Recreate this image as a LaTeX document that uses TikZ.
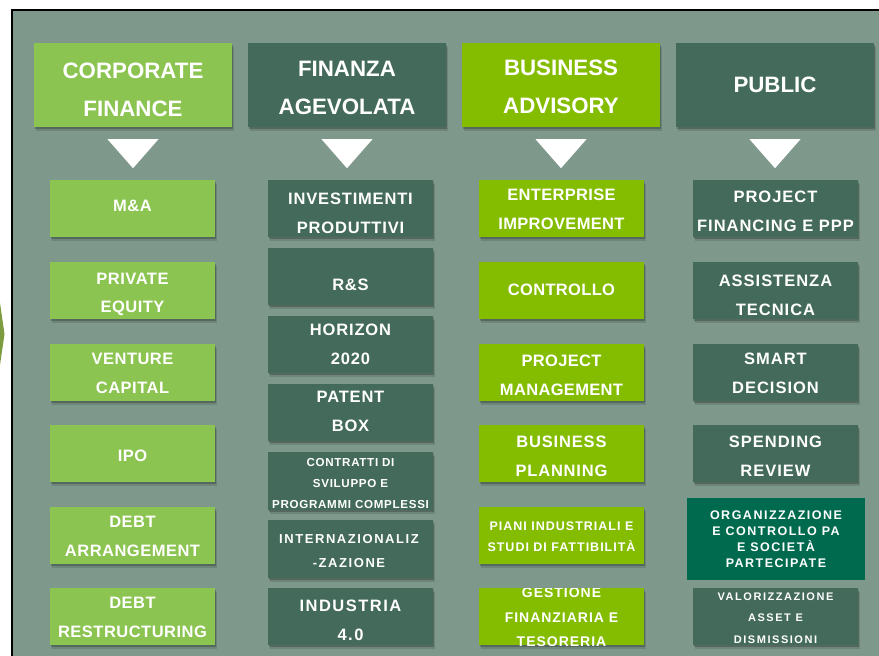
\documentclass[tikz,border=0pt]{standalone}
\usepackage{fontspec}
\setmainfont{Liberation Sans}
\usetikzlibrary{shadows,calc}
\definecolor{panel}{HTML}{7E998C}
\definecolor{lgreen}{HTML}{8BC450}
\definecolor{dgreen}{HTML}{436A5A}
\definecolor{ygreen}{HTML}{84BC00}
\definecolor{egreen}{HTML}{006A4E}
\definecolor{olivec}{HTML}{7D9B3F}
\tikzset{
  shad/.style={drop shadow={shadow xshift=2pt,shadow yshift=-4pt,fill=black,opacity=.12},
               drop shadow={shadow xshift=1pt,shadow yshift=-2pt,fill=black,opacity=.22}},
  hbox/.style={rectangle,inner sep=0,minimum width=198pt,minimum height=84pt,shad},
  sbox/.style={rectangle,inner sep=0,minimum width=165pt,minimum height=57pt,shad},
  txt/.style={anchor=base,text=white,inner sep=0pt},
  tri/.style={fill=white},
}
\newcommand\T[6]{\node[txt,font={\bfseries\fontsize{#4}{#4}\selectfont\addfontfeature{LetterSpace=#5}}] (#1) at (#2,#3) {#6};}
\begin{document}
\begin{tikzpicture}[x=1pt,y=-1pt]
\useasboundingbox (0,0) rectangle (879,656);
% panel
\fill[panel] (12,10) rectangle (879,656);
\draw[black,line width=1.5pt] (12,656) -- (12,10) -- (879,10);
\fill[olivec] (0,303) -- (4.5,334) -- (0,365) -- cycle;
% headers
\node[hbox,fill=lgreen] (h1) at (133,85) {};
\node[hbox,fill=dgreen] (h2) at (347,85) {};
\node[hbox,fill=ygreen] (h3) at (561,85) {};
\node[hbox,fill=dgreen] (h4) at (775,85) {};
\T{h1a}{133}{78}{22.3}{0}{CORPORATE}
\T{h1b}{133}{116}{22.3}{0}{FINANCE}
\T{h2a}{347}{76}{22.3}{0}{FINANZA}
\T{h2b}{347}{114}{22.3}{0}{AGEVOLATA}
\T{h3a}{561}{75}{22.3}{0}{BUSINESS}
\T{h3b}{561}{113}{22.3}{0}{ADVISORY}
\T{h4a}{775}{92.5}{22.3}{0}{PUBLIC}
% triangles
\foreach \h in {h1,h2,h3,h4}{
  \fill[tri] ($(\h.south)+(-25.5,12)$) -- ($(\h.south)+(25.5,12)$) -- ($(\h.south)+(0,41)$) -- cycle;
}
% column 1
\node[sbox,fill=lgreen] (a1) at (132.5,208.5) {};
\node[sbox,fill=lgreen] (a2) at (132.5,290.5) {};
\node[sbox,fill=lgreen] (a3) at (132.5,372.5) {};
\node[sbox,fill=lgreen] (a4) at (132.5,453.5) {};
\node[sbox,fill=lgreen] (a5) at (132.5,535.5) {};
\node[sbox,fill=lgreen] (a6) at (132.5,616.5) {};
\T{a1t}{132.5}{211.5}{16.5}{3}{M\&A}
\T{a2t}{132.5}{284}{16.5}{3}{PRIVATE}
\T{a2u}{132.5}{312.5}{16.5}{3}{EQUITY}
\T{a3t}{132.5}{364.5}{16.5}{3}{VENTURE}
\T{a3u}{132.5}{393.5}{16.5}{3}{CAPITAL}
\T{a4t}{132.5}{461.5}{16.5}{3}{IPO}
\T{a5t}{132.5}{527.5}{16.5}{3}{DEBT}
\T{a5u}{132.5}{556.5}{16.5}{3}{ARRANGEMENT}
\T{a6t}{132.5}{608.5}{16.5}{3}{DEBT}
\T{a6u}{132.5}{637.5}{16.5}{3}{RESTRUCTURING}
% column 2
\node[sbox,fill=dgreen] (b1) at (350.5,208.5) {};
\node[sbox,fill=dgreen] (b2) at (350.5,276.5) {};
\node[sbox,fill=dgreen] (b3) at (350.5,344.5) {};
\node[sbox,fill=dgreen] (b4) at (350.5,412.5) {};
\node[sbox,fill=dgreen,minimum height=58pt] (b5) at (350.5,481) {};
\node[sbox,fill=dgreen,minimum height=58pt] (b6) at (350.5,549) {};
\node[sbox,fill=dgreen] (b7) at (350.5,616.5) {};
\T{b1t}{350.5}{204.5}{16.5}{5}{INVESTIMENTI}
\T{b1u}{350.5}{233}{16.5}{5}{PRODUTTIVI}
\T{b2t}{350.5}{290}{16.5}{5}{R\&S}
\T{b3t}{350.5}{335.5}{16.5}{5}{HORIZON}
\T{b3u}{350.5}{364.5}{16.5}{5}{2020}
\T{b4t}{350.5}{402.5}{16.5}{5}{PATENT}
\T{b4u}{350.5}{431}{16.5}{5}{BOX}
\T{b5t}{350.5}{466.5}{11.6}{6}{CONTRATTI DI}
\T{b5u}{350.5}{487.5}{11.6}{6}{SVILUPPO E}
\T{b5v}{350.5}{508.5}{11.6}{6}{PROGRAMMI COMPLESSI}
\T{b6t}{349}{543.5}{13}{12}{INTERNAZIONALIZ}
\T{b6u}{349}{567}{13}{12}{-ZAZIONE}
\T{b7t}{350.5}{611.5}{16.5}{9}{INDUSTRIA}
\T{b7u}{350.5}{640}{16.5}{9}{4.0}
% column 3
\node[sbox,fill=ygreen] (c1) at (561.5,208.5) {};
\node[sbox,fill=ygreen] (c2) at (561.5,290.5) {};
\node[sbox,fill=ygreen] (c3) at (561.5,372.5) {};
\node[sbox,fill=ygreen] (c4) at (561.5,453.5) {};
\node[sbox,fill=ygreen] (c5) at (561.5,535.5) {};
\node[sbox,fill=ygreen] (c6) at (561.5,616.5) {};
\T{c1t}{561.5}{200.5}{16.5}{2}{ENTERPRISE}
\T{c1u}{561.5}{229}{16.5}{2}{IMPROVEMENT}
\T{c2t}{561.5}{295}{16.5}{2}{CONTROLLO}
\T{c3t}{561.5}{366.5}{16.5}{2}{PROJECT}
\T{c3u}{561.5}{395.5}{16.5}{2}{MANAGEMENT}
\T{c4t}{561.5}{447}{16.5}{5}{BUSINESS}
\T{c4u}{561.5}{476}{16.5}{5}{PLANNING}
\T{c5t}{561.5}{530}{12.5}{8}{PIANI INDUSTRIALI E}
\T{c5u}{561.5}{551.5}{12.5}{8}{STUDI DI FATTIBILITÀ}
\begin{scope}
\clip (479,588) rectangle (644,645);
\T{c6t}{561.5}{597}{14}{7}{GESTIONE}
\T{c6u}{561.5}{622}{14}{7}{FINANZIARIA E}
\T{c6v}{561.5}{646}{14}{7}{TESORERIA}
\end{scope}
% column 4
\node[sbox,fill=dgreen] (d1) at (775.5,208.5) {};
\node[sbox,fill=dgreen] (d2) at (775.5,290.5) {};
\node[sbox,fill=dgreen] (d3) at (775.5,372.5) {};
\node[sbox,fill=dgreen] (d4) at (775.5,453.5) {};
\node[rectangle,inner sep=0,minimum width=178pt,minimum height=82pt,fill=egreen] (d5) at (776,539) {};
\node[sbox,fill=dgreen] (d6) at (775.5,616.5) {};
\T{d1t}{775.5}{202.5}{16.5}{6}{PROJECT}
\T{d1u}{775.5}{231}{16.5}{6}{FINANCING E PPP}
\T{d2t}{775.5}{286}{16.5}{6}{ASSISTENZA}
\T{d2u}{775.5}{315}{16.5}{6}{TECNICA}
\T{d3t}{775.5}{364.5}{16.5}{6}{SMART}
\T{d3u}{775.5}{393.5}{16.5}{6}{DECISION}
\T{d4t}{775.5}{447.5}{16.5}{6}{SPENDING}
\T{d4u}{775.5}{476}{16.5}{6}{REVIEW}
\T{d5t}{776}{519.5}{12.5}{12}{ORGANIZZAZIONE}
\T{d5u}{776}{535.5}{12.5}{12}{E CONTROLLO PA}
\T{d5v}{776}{551.5}{12.5}{12}{E SOCIETÀ}
\T{d5w}{776}{567.5}{12.5}{12}{PARTECIPATE}
\begin{scope}
\clip (693,588) rectangle (858,645);
\T{d6t}{775.5}{600.5}{11}{14}{VALORIZZAZIONE}
\T{d6u}{775.5}{621.5}{11}{14}{ASSET E}
\T{d6v}{775.5}{643.5}{11}{14}{DISMISSIONI}
\end{scope}
\end{tikzpicture}
\end{document}
